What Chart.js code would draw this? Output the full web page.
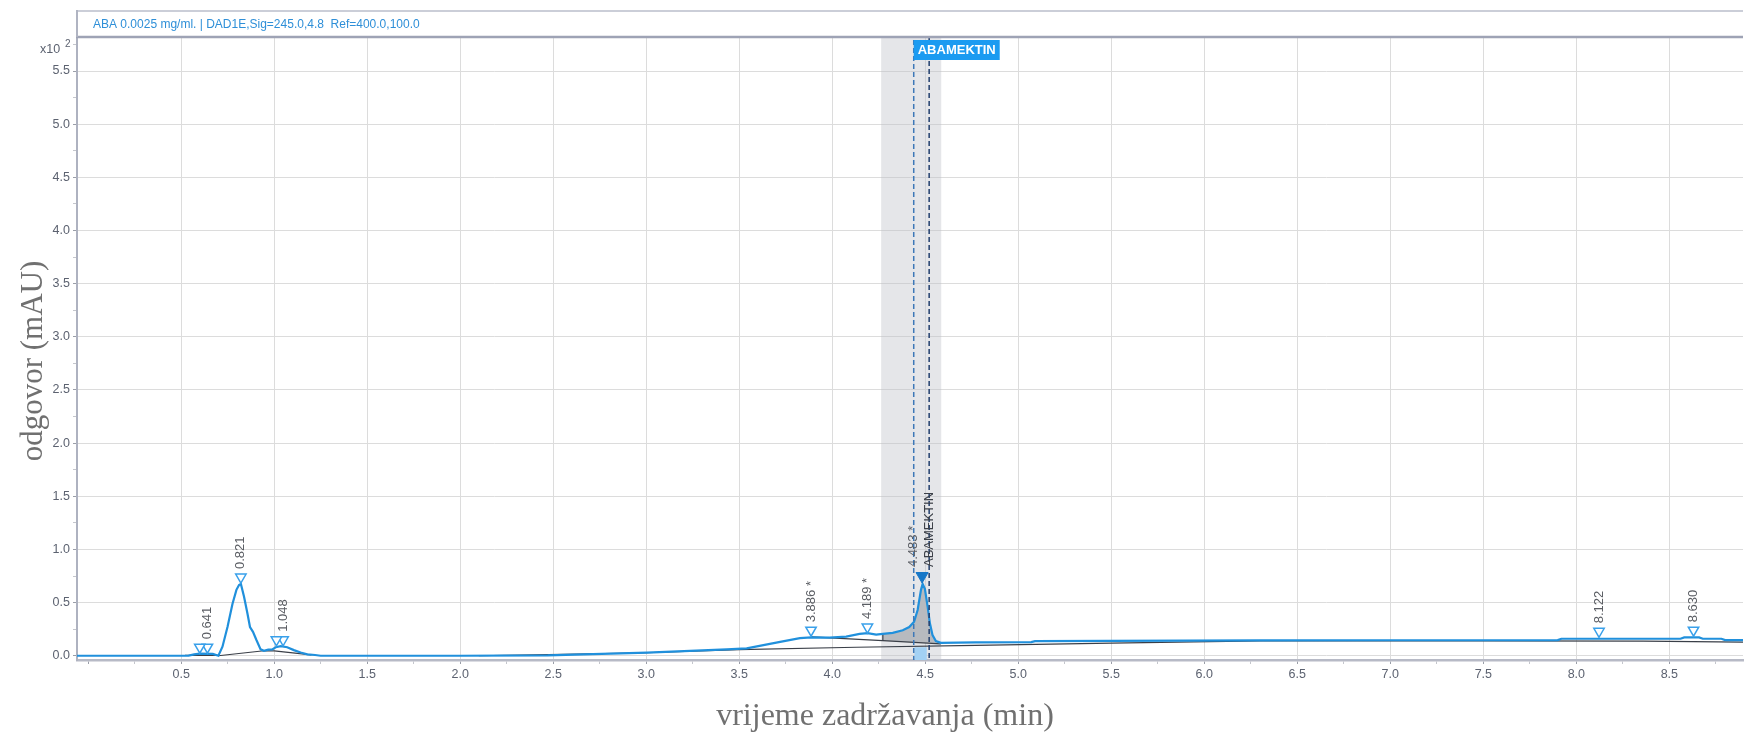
<!DOCTYPE html>
<html>
<head>
<meta charset="utf-8">
<title>ABA 0.0025 mg/ml. | DAD1E</title>
<script src="https://cdn.jsdelivr.net/npm/chart.js@4.4.1/dist/chart.umd.min.js"></script>
<style>
  html, body { margin:0; padding:0; background:#fff; }
  #wrap { width:1751px; height:736px; }
</style>
</head>
<body>
<div id="wrap"><canvas id="chrom" width="1751" height="736"></canvas></div>
<script>
// chromatogram, signal in x10^2 mAU, time in min
const traceTime = [-0.06, 0.50, 0.54, 0.57, 0.60, 0.67, 0.70, 0.722, 0.749, 0.776, 0.797, 0.811, 0.821, 0.838, 0.856, 0.870, 0.886, 0.904, 0.927, 0.945, 0.968, 0.990, 1.008, 1.035, 1.070, 1.106, 1.142, 1.178, 1.220, 1.250, 2.000, 2.470, 3.005, 3.433, 3.540, 3.630, 3.720, 3.826, 3.888, 3.986, 4.075, 4.147, 4.190, 4.236, 4.272, 4.325, 4.379, 4.414, 4.440, 4.459, 4.477, 4.486, 4.498, 4.513, 4.525, 4.539, 4.557, 4.584, 4.770, 5.070, 5.090, 6.300, 7.000, 7.900, 7.920, 8.560, 8.580, 8.660, 8.680, 8.780, 8.800, 8.896];
const traceSignal = [0.0, 0.0, 0.002, 0.013, 0.02, 0.017, 0.0, 0.085, 0.27, 0.49, 0.62, 0.665, 0.675, 0.555, 0.40, 0.27, 0.225, 0.15, 0.06, 0.047, 0.058, 0.06, 0.08, 0.09, 0.08, 0.053, 0.03, 0.013, 0.007, 0.0, 0.0, 0.004, 0.03, 0.06, 0.07, 0.10, 0.13, 0.165, 0.173, 0.17, 0.18, 0.205, 0.213, 0.198, 0.205, 0.215, 0.24, 0.27, 0.32, 0.43, 0.62, 0.675, 0.63, 0.46, 0.305, 0.195, 0.138, 0.122, 0.126, 0.128, 0.138, 0.145, 0.146, 0.147, 0.16, 0.16, 0.173, 0.173, 0.16, 0.16, 0.147, 0.147];

// integration baselines (null = gap between segments)
const baseTime = [0.52, 0.70, 0.70, 0.70, 0.945, 1.00, 1.20, 1.20, 2.10, 3.00, 3.50, 4.13, 4.77, 5.50, 6.30, 7.50, 8.36, 8.896];
const baseSignal = [0.003, 0.003, null, 0.0, 0.047, 0.045, 0.008, null, 0.0, 0.028, 0.058, 0.08, 0.098, 0.118, 0.14, 0.139, 0.137, 0.128];
const peakBaseTime = [3.886, 4.272, 4.584];
const peakBaseSignal = [0.178, 0.142, 0.112];
const areaStart = 4.272, areaEnd = 4.584;

// detected peaks
const peakRT = [0.641, 0.821, 1.048, 3.886, 4.189, 8.122, 8.630];
const peakMarkY = [0.08, 0.74, 0.15, 0.24, 0.27, 0.23, 0.24];
const peakLabels = ['0.641', '0.821', '1.048', '3.886 *', '4.189 *', '8.122', '8.630'];
const extraRT = [0.600, 1.012];
const extraMarkY = [0.08, 0.15];

// identified compound
const compoundName = 'ABAMEKTIN';
const mainRT = 4.483, mainMarkY = 0.75, mainLabel = '4.483 *';
const bandStart = 4.263, bandEnd = 4.586;
const windowStart = 4.438, windowEnd = 4.521;
const rtMarkStart = 4.442, rtMarkEnd = 4.508, rtMarkTop = 0.08;

const headerText = 'ABA 0.0025 mg/ml. | DAD1E,Sig=245.0,4.8  Ref=400.0,100.0';
const xTitle = 'vrijeme zadržavanja (min)';
const yTitle = 'odgovor (mAU)';

const xMin = -0.06, xMax = 8.896, yMin = -0.04, yMax = 5.82;

const isMajor = v => Math.abs(v * 2 - Math.round(v * 2)) < 1e-6;
const xy = (ts, vs) => ts.map((t, i) => ({ x: t, y: vs[i] }));
const SANS = '"Liberation Sans", Arial, sans-serif';
const SERIF = '"Liberation Serif", "Times New Roman", serif';

const overlays = {
  id: 'overlays',
  beforeDatasetsDraw(chart){
    const { ctx, chartArea: a, scales: { x, y } } = chart;
    ctx.save();
    const b0 = x.getPixelForValue(bandStart), b1 = x.getPixelForValue(bandEnd);
    ctx.fillStyle = 'rgba(190,193,199,0.40)';
    ctx.fillRect(b0, a.top, b1 - b0, a.bottom - a.top);
    const r0 = x.getPixelForValue(rtMarkStart), r1 = x.getPixelForValue(rtMarkEnd);
    const ry = y.getPixelForValue(rtMarkTop);
    ctx.fillStyle = '#a3d1f4';
    ctx.fillRect(r0, ry, r1 - r0, a.bottom - ry);
    ctx.restore();
  },
  afterDatasetsDraw(chart){
    const { ctx, chartArea: a, scales: { x, y } } = chart;
    ctx.save();
    const wl = x.getPixelForValue(windowStart), wr = x.getPixelForValue(windowEnd);
    ctx.lineWidth = 1.5;
    ctx.setLineDash([5, 3]);
    ctx.strokeStyle = '#3d78b8';
    ctx.beginPath(); ctx.moveTo(wl, a.top + 3); ctx.lineTo(wl, a.bottom); ctx.stroke();
    ctx.strokeStyle = '#233f6d';
    ctx.beginPath(); ctx.moveTo(wr, a.top); ctx.lineTo(wr, a.bottom); ctx.stroke();
    ctx.setLineDash([]);

    // compound tag
    ctx.font = 'bold 13px ' + SANS;
    const tw = ctx.measureText(compoundName).width;
    ctx.fillStyle = '#1b9bf1';
    ctx.fillRect(wl, a.top + 3, tw + 8, 20);
    ctx.fillStyle = '#ffffff';
    ctx.textAlign = 'left'; ctx.textBaseline = 'middle';
    ctx.fillText(compoundName, wl + 4, a.top + 13.5);

    // rotated peak labels
    ctx.font = '13px ' + SANS;
    ctx.fillStyle = '#5a5d63';
    const vlabel = (text, px, py) => {
      ctx.save(); ctx.translate(px, py); ctx.rotate(-Math.PI / 2);
      ctx.textAlign = 'left'; ctx.textBaseline = 'middle';
      ctx.fillText(text, 0, 0); ctx.restore();
    };
    peakRT.forEach((rt, i) => {
      vlabel(peakLabels[i], x.getPixelForValue(rt), y.getPixelForValue(peakMarkY[i]) - 8);
    });
    const my = y.getPixelForValue(mainMarkY) - 9;
    vlabel(mainLabel, wl, my);
    ctx.fillStyle = '#3c4048';
    vlabel(compoundName, wr, my);
    ctx.restore();
  },
  afterDraw(chart){
    const { ctx, chartArea: a } = chart;
    ctx.save();
    // header strip
    ctx.strokeStyle = '#cbced8'; ctx.lineWidth = 2;
    ctx.beginPath(); ctx.moveTo(a.left, 11); ctx.lineTo(a.right, 11); ctx.stroke();
    ctx.strokeStyle = '#9ea3b5'; ctx.lineWidth = 2.5;
    ctx.beginPath(); ctx.moveTo(a.left - 1, a.top); ctx.lineTo(a.right, a.top); ctx.stroke();
    ctx.strokeStyle = '#b0b4c2'; ctx.lineWidth = 2;
    ctx.beginPath(); ctx.moveTo(a.left, 10); ctx.lineTo(a.left, a.top); ctx.stroke();
    ctx.font = '12px ' + SANS;
    ctx.fillStyle = '#2e8fd8';
    ctx.textAlign = 'left'; ctx.textBaseline = 'middle';
    ctx.fillText(headerText, 93, 25);

    // exponent
    ctx.fillStyle = '#5c6270';
    ctx.font = '12.5px ' + SANS;
    ctx.fillText('x10', 40, 50);
    ctx.font = '10px ' + SANS;
    ctx.fillText('2', 65, 44);

    // axis titles
    ctx.fillStyle = '#707070';
    ctx.font = '32px ' + SERIF;
    ctx.textAlign = 'center'; ctx.textBaseline = 'alphabetic';
    ctx.fillText(xTitle, 885, 725);
    ctx.save();
    ctx.translate(42, 361); ctx.rotate(-Math.PI / 2);
    ctx.font = '31px ' + SERIF;
    ctx.fillText(yTitle, 0, 0);
    ctx.restore();
    ctx.restore();
  }
};

const peakArea = xy(traceTime, traceSignal).filter(p => p.x >= areaStart && p.x <= areaEnd);

const tickFont = { family: SANS, size: 12.5 };
const gridColor = (skipZero) => ctx => {
  const v = ctx.tick ? ctx.tick.value : null;
  if (v === null || !isMajor(v) || (skipZero && Math.abs(v) < 1e-9)) return 'rgba(0,0,0,0)';
  return '#dcdcdc';
};
const tickColor = ctx => (ctx.tick && isMajor(ctx.tick.value)) ? '#9a9ea8' : '#c4c6cc';

new Chart(document.getElementById('chrom'), {
  type: 'line',
  data: {
    datasets: [
      { label: 'peaks', data: xy(peakRT, peakMarkY).concat(xy(extraRT, extraMarkY)), showLine: false,
        pointStyle: 'triangle', rotation: 180, pointRadius: 6, pointBorderWidth: 1.5,
        pointBorderColor: '#39a0ea', pointBackgroundColor: '#ffffff', order: 0 },
      { label: 'main', data: [{ x: mainRT, y: mainMarkY }], showLine: false,
        pointStyle: 'triangle', rotation: 180, pointRadius: 7, pointBorderWidth: 1,
        pointBorderColor: '#1677c8', pointBackgroundColor: '#1677c8', order: 0 },
      { label: 'signal', data: xy(traceTime, traceSignal), borderColor: '#2090dc', borderWidth: 2.2,
        pointRadius: 0, tension: 0, fill: false, order: 1 },
      { label: 'area', data: peakArea, borderWidth: 0, borderColor: 'rgba(0,0,0,0)', pointRadius: 0,
        fill: { target: 4 }, backgroundColor: '#b7babf', order: 4 },
      { label: 'peakBase', data: xy(peakBaseTime, peakBaseSignal), borderColor: '#3a3f48', borderWidth: 1.2,
        pointRadius: 0, fill: false, order: 2 },
      { label: 'baseline', data: xy(baseTime, baseSignal), borderColor: '#3a3f48', borderWidth: 1.2,
        pointRadius: 0, fill: false, spanGaps: false, order: 2 },
      { label: 'start', data: [{ x: areaStart, y: peakBaseSignal[1] }, { x: areaStart, y: traceSignal[traceTime.indexOf(areaStart)] }],
        borderColor: '#3a3f48', borderWidth: 1.2, pointRadius: 0, fill: false, order: 2 }
    ]
  },
  options: {
    responsive: false,
    animation: false,
    events: [],
    devicePixelRatio: 1,
    layout: { padding: { top: 37, left: 0, right: 0, bottom: 0 } },
    plugins: { legend: { display: false }, tooltip: { enabled: false }, title: { display: false } },
    scales: {
      x: {
        type: 'linear', min: xMin, max: xMax,
        afterFit: s => { s.height = 76; },
        border: { color: '#b7bac6', width: 2.5 },
        grid: { color: gridColor(true), tickColor: tickColor, tickLength: 4, drawTicks: true },
        ticks: { stepSize: 0.25, includeBounds: false, autoSkip: false, maxRotation: 0, padding: 3,
          color: '#5c6270', font: tickFont,
          callback: v => (isMajor(v) && Math.abs(v) > 1e-9) ? v.toFixed(1) : '' }
      },
      y: {
        type: 'linear', min: yMin, max: yMax,
        afterFit: s => { s.width = 77; },
        border: { color: '#aeb2c0', width: 2 },
        grid: { color: gridColor(false), tickColor: tickColor, tickLength: 4, drawTicks: true },
        ticks: { stepSize: 0.25, includeBounds: false, autoSkip: false, padding: 3,
          color: '#5c6270', font: tickFont,
          callback: v => isMajor(v) ? v.toFixed(1) : '' }
      }
    }
  },
  plugins: [overlays]
});
</script>
</body>
</html>
